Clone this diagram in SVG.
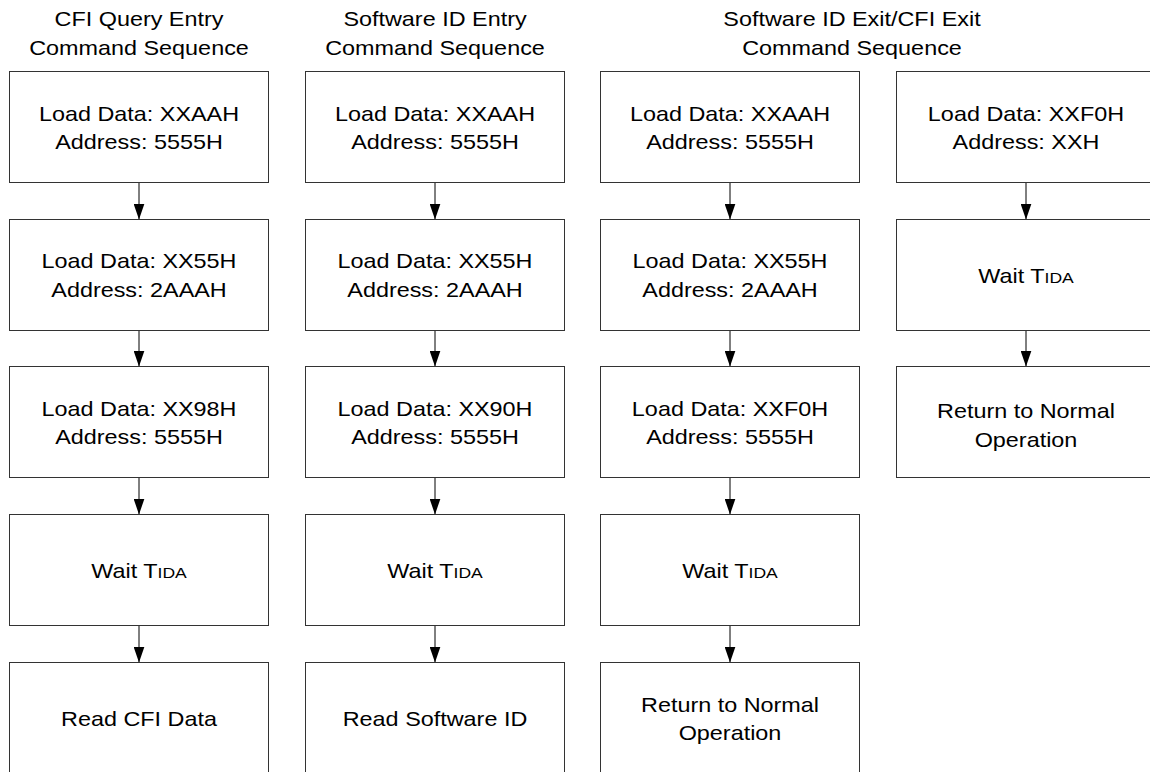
<svg xmlns="http://www.w3.org/2000/svg" width="1150" height="772" viewBox="0 0 1150 772">
<style>
  .box{fill:#fff;stroke:#333;stroke-width:1}
  .t{font-family:"Liberation Sans",Arial,sans-serif;font-size:20px;fill:#000;text-anchor:middle}
  .sm{font-size:15px}
  .c{stroke:#000;stroke-width:1;fill:none}
</style>
<defs>
  <marker id="ah" viewBox="0 0 16 11" refX="16" refY="5.5" markerWidth="16" markerHeight="11" markerUnits="userSpaceOnUse" orient="auto">
    <path d="M0,0 L16,5.5 L0,11 z" fill="#000"/>
  </marker>
</defs>
<rect width="1150" height="772" fill="#fff"/>

<g id="titles">
  <text class="t" transform="translate(139 26) scale(1.17 1)">CFI Query Entry</text>
  <text class="t" transform="translate(139 55) scale(1.17 1)">Command Sequence</text>
  <text class="t" transform="translate(435 26) scale(1.17 1)">Software ID Entry</text>
  <text class="t" transform="translate(435 55) scale(1.17 1)">Command Sequence</text>
  <text class="t" transform="translate(852 26) scale(1.17 1)">Software ID Exit/CFI Exit</text>
  <text class="t" transform="translate(852 55) scale(1.17 1)">Command Sequence</text>
</g>

<g id="connectors">
  <line class="c" x1="139" y1="182.5" x2="139" y2="219.5" marker-end="url(#ah)"/>
  <line class="c" x1="139" y1="330.5" x2="139" y2="366.5" marker-end="url(#ah)"/>
  <line class="c" x1="139" y1="477.5" x2="139" y2="514.5" marker-end="url(#ah)"/>
  <line class="c" x1="139" y1="625.5" x2="139" y2="662.5" marker-end="url(#ah)"/>
  <line class="c" x1="435" y1="182.5" x2="435" y2="219.5" marker-end="url(#ah)"/>
  <line class="c" x1="435" y1="330.5" x2="435" y2="366.5" marker-end="url(#ah)"/>
  <line class="c" x1="435" y1="477.5" x2="435" y2="514.5" marker-end="url(#ah)"/>
  <line class="c" x1="435" y1="625.5" x2="435" y2="662.5" marker-end="url(#ah)"/>
  <line class="c" x1="730" y1="182.5" x2="730" y2="219.5" marker-end="url(#ah)"/>
  <line class="c" x1="730" y1="330.5" x2="730" y2="366.5" marker-end="url(#ah)"/>
  <line class="c" x1="730" y1="477.5" x2="730" y2="514.5" marker-end="url(#ah)"/>
  <line class="c" x1="730" y1="625.5" x2="730" y2="662.5" marker-end="url(#ah)"/>
  <line class="c" x1="1026" y1="182.5" x2="1026" y2="219.5" marker-end="url(#ah)"/>
  <line class="c" x1="1026" y1="330.5" x2="1026" y2="366.5" marker-end="url(#ah)"/>
</g>

<!-- Column 1 -->
<g id="c1r1"><rect class="box" x="9.5" y="71.5" width="259" height="111"/>
  <text class="t" transform="translate(139 120.7) scale(1.17 1)">Load Data: XXAAH</text>
  <text class="t" transform="translate(139 149.3) scale(1.17 1)">Address: 5555H</text></g>
<g id="c1r2"><rect class="box" x="9.5" y="219.5" width="259" height="111"/>
  <text class="t" transform="translate(139 268) scale(1.17 1)">Load Data: XX55H</text>
  <text class="t" transform="translate(139 296.7) scale(1.17 1)">Address: 2AAAH</text></g>
<g id="c1r3"><rect class="box" x="9.5" y="366.5" width="259" height="111"/>
  <text class="t" transform="translate(139 415.7) scale(1.17 1)">Load Data: XX98H</text>
  <text class="t" transform="translate(139 444.3) scale(1.17 1)">Address: 5555H</text></g>
<g id="c1r4"><rect class="box" x="9.5" y="514.5" width="259" height="111"/>
  <text class="t" transform="translate(139 578.3) scale(1.17 1)">Wait T<tspan class="sm">IDA</tspan></text></g>
<g id="c1r5"><rect class="box" x="9.5" y="662.5" width="259" height="111"/>
  <text class="t" transform="translate(139 725.5) scale(1.17 1)">Read CFI Data</text></g>

<!-- Column 2 -->
<g id="c2r1"><rect class="box" x="305.5" y="71.5" width="259" height="111"/>
  <text class="t" transform="translate(435 120.7) scale(1.17 1)">Load Data: XXAAH</text>
  <text class="t" transform="translate(435 149.3) scale(1.17 1)">Address: 5555H</text></g>
<g id="c2r2"><rect class="box" x="305.5" y="219.5" width="259" height="111"/>
  <text class="t" transform="translate(435 268) scale(1.17 1)">Load Data: XX55H</text>
  <text class="t" transform="translate(435 296.7) scale(1.17 1)">Address: 2AAAH</text></g>
<g id="c2r3"><rect class="box" x="305.5" y="366.5" width="259" height="111"/>
  <text class="t" transform="translate(435 415.7) scale(1.17 1)">Load Data: XX90H</text>
  <text class="t" transform="translate(435 444.3) scale(1.17 1)">Address: 5555H</text></g>
<g id="c2r4"><rect class="box" x="305.5" y="514.5" width="259" height="111"/>
  <text class="t" transform="translate(435 578.3) scale(1.17 1)">Wait T<tspan class="sm">IDA</tspan></text></g>
<g id="c2r5"><rect class="box" x="305.5" y="662.5" width="259" height="111"/>
  <text class="t" transform="translate(435 725.5) scale(1.17 1)">Read Software ID</text></g>

<!-- Column 3 -->
<g id="c3r1"><rect class="box" x="600.5" y="71.5" width="259" height="111"/>
  <text class="t" transform="translate(730 120.7) scale(1.17 1)">Load Data: XXAAH</text>
  <text class="t" transform="translate(730 149.3) scale(1.17 1)">Address: 5555H</text></g>
<g id="c3r2"><rect class="box" x="600.5" y="219.5" width="259" height="111"/>
  <text class="t" transform="translate(730 268) scale(1.17 1)">Load Data: XX55H</text>
  <text class="t" transform="translate(730 296.7) scale(1.17 1)">Address: 2AAAH</text></g>
<g id="c3r3"><rect class="box" x="600.5" y="366.5" width="259" height="111"/>
  <text class="t" transform="translate(730 415.7) scale(1.17 1)">Load Data: XXF0H</text>
  <text class="t" transform="translate(730 444.3) scale(1.17 1)">Address: 5555H</text></g>
<g id="c3r4"><rect class="box" x="600.5" y="514.5" width="259" height="111"/>
  <text class="t" transform="translate(730 578.3) scale(1.17 1)">Wait T<tspan class="sm">IDA</tspan></text></g>
<g id="c3r5"><rect class="box" x="600.5" y="662.5" width="259" height="111"/>
  <text class="t" transform="translate(730 711.7) scale(1.17 1)">Return to Normal</text>
  <text class="t" transform="translate(730 740) scale(1.17 1)">Operation</text></g>

<!-- Column 4 -->
<g id="c4r1"><rect class="box" x="896.5" y="71.5" width="259" height="111"/>
  <text class="t" transform="translate(1026 120.7) scale(1.17 1)">Load Data: XXF0H</text>
  <text class="t" transform="translate(1026 149.3) scale(1.17 1)">Address: XXH</text></g>
<g id="c4r2"><rect class="box" x="896.5" y="219.5" width="259" height="111"/>
  <text class="t" transform="translate(1026 283) scale(1.17 1)">Wait T<tspan class="sm">IDA</tspan></text></g>
<g id="c4r3"><rect class="box" x="896.5" y="366.5" width="259" height="111"/>
  <text class="t" transform="translate(1026 418) scale(1.17 1)">Return to Normal</text>
  <text class="t" transform="translate(1026 446.5) scale(1.17 1)">Operation</text></g>
</svg>
